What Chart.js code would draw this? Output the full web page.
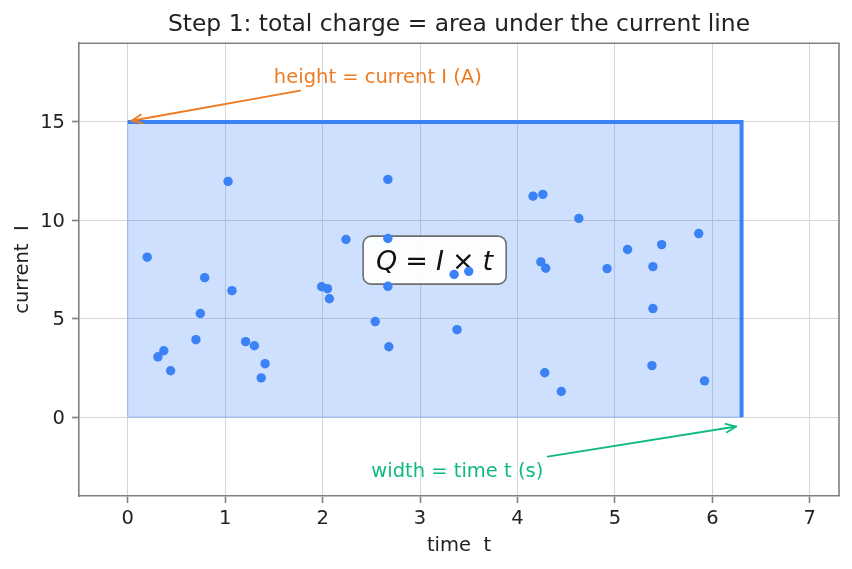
<!DOCTYPE html>
<html><head><meta charset="utf-8">
<script src="https://cdn.jsdelivr.net/npm/chart.js@4.4.1/dist/chart.umd.min.js"></script>
<style>html,body{margin:0;padding:0;background:#fff}#wrap{width:852px;height:569px}</style>
</head><body><div id="wrap"><canvas id="c" width="852" height="569"></canvas></div>
<script>
// ---- data ----
const timeValues = [0.20,0.31,0.37,0.44,0.70,0.745,0.79,1.03,1.07,1.21,1.30,1.37,1.41,1.99,2.05,2.07,2.24,2.54,2.67,2.67,2.67,2.68,3.35,3.38,3.50,4.16,4.26,4.24,4.29,4.28,4.45,4.63,4.92,5.13,5.39,5.39,5.38,5.48,5.86,5.92];
const currentValues = [8.13,3.07,3.38,2.36,3.94,5.27,7.09,11.98,6.43,3.84,3.63,2.00,2.72,6.63,6.53,6.02,9.03,4.86,12.08,9.08,6.65,3.58,7.25,4.45,7.41,11.23,11.32,7.89,7.57,2.26,1.31,10.10,7.55,8.52,7.65,5.52,2.62,8.77,9.33,1.85];
const totalTime = 6.3;
const currentLevel = 15;
const outlineX = [0, totalTime, totalTime];
const outlineY = [currentLevel, currentLevel, 0];
const areaX = [0, 0, totalTime, totalTime, 0];
const areaY = [0, currentLevel, currentLevel, 0, 0];
const xTickValues = [0,1,2,3,4,5,6,7];
const yTickValues = [0,5,10,15];
const xRange = [-0.5, 7.3];
const yRange = [-4, 19];
const titleText = 'Step 1: total charge = area under the current line';
const xLabel = 'time  t';
const yLabel = 'current  I';
const heightLabel = 'height = current I (A)';
const heightLabelAt = [1.5, 17.0];
const heightArrow = [[1.77, 16.59], [0.04, 15.06]];
const widthLabel = 'width = time t (s)';
const widthLabelAt = [2.5, -3.04];
const widthArrow = [[4.31, -2.0], [6.245, -0.47]];
const formulaAt = [3.15, 7.98];
const formulaParts = [['Q', true], ['=', false], ['I', true], ['\u00d7', false], ['t', true]];

const FAM = "'DejaVu Sans', sans-serif";
const FS = 19.5;
const BLUE = '#3b82f6';
const ORANGE = '#ee7b22';
const GREEN = '#10b981';
const SPINE = '#808080';
const TXT = '#222222';

function arrow(ctx, x0, y0, x1, y1, color) {
  ctx.save();
  ctx.strokeStyle = color; ctx.lineWidth = 1.8; ctx.lineCap = 'round'; ctx.lineJoin = 'round';
  ctx.beginPath(); ctx.moveTo(x0, y0); ctx.lineTo(x1, y1); ctx.stroke();
  const a = Math.atan2(y1 - y0, x1 - x0), L = 11, w = 0.4;
  ctx.beginPath();
  ctx.moveTo(x1 - L * Math.cos(a - w), y1 - L * Math.sin(a - w));
  ctx.lineTo(x1, y1);
  ctx.lineTo(x1 - L * Math.cos(a + w), y1 - L * Math.sin(a + w));
  ctx.stroke();
  ctx.restore();
}
function roundRect(ctx, x, y, w, h, r) {
  ctx.beginPath();
  ctx.moveTo(x + r, y); ctx.lineTo(x + w - r, y); ctx.arcTo(x + w, y, x + w, y + r, r);
  ctx.lineTo(x + w, y + h - r); ctx.arcTo(x + w, y + h, x + w - r, y + h, r);
  ctx.lineTo(x + r, y + h); ctx.arcTo(x, y + h, x, y + h - r, r);
  ctx.lineTo(x, y + r); ctx.arcTo(x, y, x + r, y, r); ctx.closePath();
}

const annot = {
  id: 'annot',
  afterDatasetDraw(chart, args) {
    if (args.index !== 1) return;
    const ctx = chart.ctx, xs = chart.scales.x, ys = chart.scales.y;
    const cx = xs.getPixelForValue(formulaAt[0]), cy = ys.getPixelForValue(formulaAt[1]);
    const size = 27, gap = 8;
    let widths = formulaParts.map(([s, it]) => { ctx.font = (it ? 'italic ' : '') + size + 'px ' + FAM; return ctx.measureText(s).width; });
    const total = widths.reduce((a, b) => a + b, 0) + gap * (formulaParts.length - 1);
    const bw = total + 26, bh = 48;
    ctx.save();
    roundRect(ctx, cx - bw / 2, cy - bh / 2, bw, bh, 8);
    ctx.fillStyle = 'rgba(255,255,255,0.95)'; ctx.fill();
    ctx.strokeStyle = '#6e6e6e'; ctx.lineWidth = 1.6; ctx.stroke();
    ctx.fillStyle = '#111'; ctx.textBaseline = 'alphabetic'; ctx.textAlign = 'left';
    let x = cx - total / 2;
    const base = cy + 0.365 * size;
    formulaParts.forEach(([s, it], i) => {
      ctx.font = (it ? 'italic ' : '') + size + 'px ' + FAM;
      ctx.fillText(s, x, base);
      x += widths[i] + gap;
    });
    ctx.restore();
  },
  afterDatasetsDraw(chart) {
    const ctx = chart.ctx, xs = chart.scales.x, ys = chart.scales.y, ca = chart.chartArea;
    const P = (p) => [xs.getPixelForValue(p[0]), ys.getPixelForValue(p[1])];
    ctx.save();
    // spines top/right
    ctx.strokeStyle = SPINE; ctx.lineWidth = 1.6;
    ctx.beginPath(); ctx.moveTo(ca.left, ca.top); ctx.lineTo(ca.right, ca.top); ctx.lineTo(ca.right, ca.bottom); ctx.stroke();
    // annotations
    ctx.font = FS + 'px ' + FAM; ctx.textBaseline = 'alphabetic'; ctx.textAlign = 'left';
    let [a, b] = [P(heightArrow[0]), P(heightArrow[1])];
    arrow(ctx, a[0], a[1], b[0], b[1], ORANGE);
    ctx.fillStyle = ORANGE;
    let t = P(heightLabelAt); ctx.fillText(heightLabel, t[0], t[1]);
    [a, b] = [P(widthArrow[0]), P(widthArrow[1])];
    arrow(ctx, a[0], a[1], b[0], b[1], GREEN);
    ctx.fillStyle = GREEN;
    t = P(widthLabelAt); ctx.fillText(widthLabel, t[0], t[1]);
    ctx.restore();
  }
};

const pts = timeValues.map((x, i) => ({ x, y: currentValues[i] }));
const outline = outlineX.map((x, i) => ({ x, y: outlineY[i] }));
const area = areaX.map((x, i) => ({ x, y: areaY[i] }));

const axisCommon = (ticks) => ({
  type: 'linear',
  afterBuildTicks: (s) => { s.ticks = ticks.map(v => ({ value: v })); },
  grid: { color: '#d6d6d6', lineWidth: 1, tickColor: SPINE, tickLength: 7, tickWidth: 1.6, drawTicks: true },
  border: { display: true, color: SPINE, width: 1.6 },
});

new Chart(document.getElementById('c'), {
  type: 'scatter',
  data: {
    datasets: [
      { data: pts, pointRadius: 4.7, pointBackgroundColor: BLUE, pointBorderWidth: 0, showLine: false },
      { data: outline, showLine: true, borderColor: BLUE, borderWidth: 4, pointRadius: 0, fill: false, tension: 0, borderCapStyle: 'butt', borderJoinStyle: 'miter' },
      { data: area, showLine: true, borderColor: 'rgba(59,130,246,0.25)', borderWidth: 1.5, backgroundColor: 'rgba(59,130,246,0.25)', pointRadius: 0, fill: 'shape', tension: 0 }
    ]
  },
  options: {
    responsive: false, animation: false, devicePixelRatio: 1, events: [],
    layout: { padding: { left: 0, right: 13, top: 0, bottom: 0 } },
    plugins: {
      legend: { display: false }, tooltip: { enabled: false },
      title: { display: true, fullSize: false, text: titleText, color: TXT, font: { family: FAM, size: 23.4, weight: 'normal' }, padding: { top: 10.9, bottom: 4.2 } }
    },
    scales: {
      x: Object.assign(axisCommon(xTickValues), {
        min: xRange[0], max: xRange[1],
        afterFit: (s) => { s.height = 73; },
        ticks: { color: TXT, font: { family: FAM, size: FS }, padding: 4.7, maxRotation: 0, autoSkip: false },
        title: { display: true, text: xLabel, color: TXT, font: { family: FAM, size: FS }, padding: { top: 0, bottom: 11.3 } }
      }),
      y: Object.assign(axisCommon(yTickValues), {
        min: yRange[0], max: yRange[1],
        afterFit: (s) => { s.width = 79; },
        ticks: { color: TXT, font: { family: FAM, size: FS }, padding: 7, autoSkip: false, labelOffset: 1.5 },
        title: { display: true, text: yLabel, color: TXT, font: { family: FAM, size: FS }, padding: { top: 11, bottom: 0 } }
      })
    }
  },
  plugins: [annot]
});
</script></body></html>
